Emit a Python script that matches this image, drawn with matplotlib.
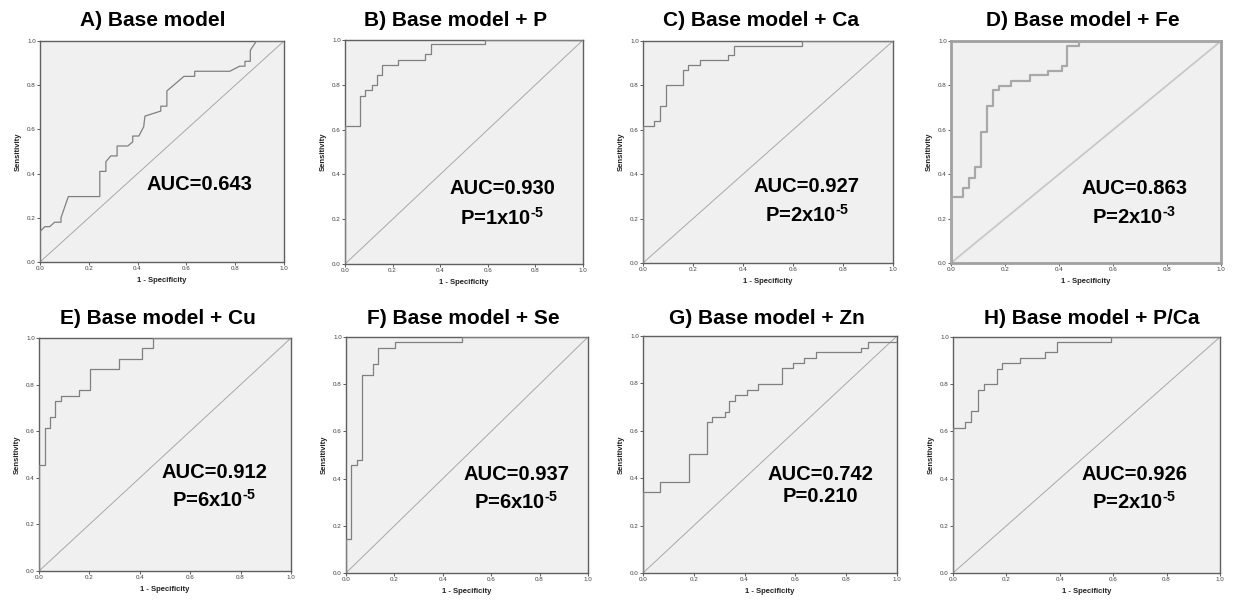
import matplotlib
matplotlib.use("Agg")
import matplotlib.pyplot as plt

plt.rcParams['font.family'] = ['Liberation Sans', 'DejaVu Sans']
plt.rcParams['mathtext.fontset'] = 'custom'
plt.rcParams['mathtext.rm'] = 'Liberation Sans:bold'
plt.rcParams['mathtext.bf'] = 'Liberation Sans:bold'
plt.rcParams['mathtext.it'] = 'Liberation Sans:bold'

# ---------------- data ----------------
titles = ["A) Base model", "B) Base model + P", "C) Base model + Ca", "D) Base model + Fe",
          "E) Base model + Cu", "F) Base model + Se", "G) Base model + Zn", "H) Base model + P/Ca"]
auc_labels = ["AUC=0.643", "AUC=0.930", "AUC=0.927", "AUC=0.863",
              "AUC=0.912", "AUC=0.937", "AUC=0.742", "AUC=0.926"]
p_labels = [None, r"P=1x10$^{\text{-5}}$", r"P=2x10$^{\text{-5}}$", r"P=2x10$^{\text{-3}}$",
            r"P=6x10$^{\text{-5}}$", r"P=6x10$^{\text{-5}}$", "P=0.210", r"P=2x10$^{\text{-5}}$"]

# Panel A (vertices, includes sloped segments)
A_fpr = [0, 0, 0.02, 0.04, 0.06, 0.086, 0.086, 0.116, 0.245, 0.245, 0.27, 0.27, 0.29, 0.316,
         0.316, 0.36, 0.38, 0.38, 0.405, 0.425, 0.43, 0.495, 0.495, 0.52, 0.52, 0.59, 0.634,
         0.634, 0.778, 0.818, 0.84, 0.84, 0.862, 0.862, 0.887, 1.0]
A_tpr = [0, 0.138, 0.16, 0.16, 0.18, 0.18, 0.2, 0.296, 0.296, 0.41, 0.41, 0.454, 0.48, 0.48,
         0.525, 0.525, 0.544, 0.57, 0.57, 0.612, 0.66, 0.683, 0.705, 0.705, 0.774, 0.84, 0.84,
         0.863, 0.863, 0.886, 0.886, 0.908, 0.908, 0.958, 1.0, 1.0]

# Panels B-H (step corners, steps-post)
B_fpr = [0, 0, 0.063, 0.084, 0.112, 0.133, 0.157, 0.224, 0.337, 0.36, 0.589, 1.0]
B_tpr = [0, 0.614, 0.752, 0.777, 0.8, 0.844, 0.889, 0.911, 0.936, 0.98, 1.0, 1.0]

C_fpr = [0, 0, 0.044, 0.067, 0.091, 0.158, 0.18, 0.227, 0.341, 0.364, 0.635, 1.0]
C_tpr = [0, 0.615, 0.64, 0.709, 0.802, 0.87, 0.892, 0.915, 0.937, 0.978, 1.0, 1.0]

D_fpr = [0, 0, 0.043, 0.068, 0.089, 0.11, 0.132, 0.154, 0.178, 0.221, 0.293, 0.36, 0.41, 0.428, 0.475, 1.0]
D_tpr = [0, 0.297, 0.338, 0.383, 0.432, 0.59, 0.706, 0.778, 0.796, 0.818, 0.845, 0.866, 0.886, 0.976, 1.0, 1.0]

E_fpr = [0, 0, 0.023, 0.042, 0.065, 0.086, 0.158, 0.204, 0.317, 0.41, 0.454, 1.0]
E_tpr = [0, 0.455, 0.615, 0.659, 0.73, 0.752, 0.775, 0.866, 0.91, 0.957, 1.0, 1.0]

F_fpr = [0, 0, 0.021, 0.044, 0.068, 0.113, 0.134, 0.203, 0.479, 1.0]
F_tpr = [0, 0.142, 0.456, 0.477, 0.84, 0.885, 0.953, 0.977, 1.0, 1.0]

G_fpr = [0, 0, 0.068, 0.182, 0.251, 0.271, 0.321, 0.34, 0.363, 0.408, 0.454, 0.546, 0.592, 0.635, 0.681, 0.86, 0.886, 1.0]
G_tpr = [0, 0.341, 0.386, 0.501, 0.636, 0.66, 0.681, 0.727, 0.749, 0.772, 0.796, 0.864, 0.885, 0.909, 0.931, 0.951, 0.976, 1.0]

H_fpr = [0, 0, 0.046, 0.069, 0.094, 0.116, 0.163, 0.184, 0.25, 0.344, 0.388, 0.591, 1.0]
H_tpr = [0, 0.614, 0.638, 0.685, 0.777, 0.8, 0.866, 0.888, 0.91, 0.935, 0.98, 1.0, 1.0]

curves = [(A_fpr, A_tpr), (B_fpr, B_tpr), (C_fpr, C_tpr), (D_fpr, D_tpr),
          (E_fpr, E_tpr), (F_fpr, F_tpr), (G_fpr, G_tpr), (H_fpr, H_tpr)]
tick_vals = [0.0, 0.2, 0.4, 0.6, 0.8, 1.0]
tick_labels = ["0.0", "0.2", "0.4", "0.6", "0.8", "1.0"]

# ---------------- layout (pixels) ----------------
W, H = 1233, 600
boxes = [(40, 284, 41, 262), (345, 583, 40, 264), (643, 893, 41, 263), (951, 1221, 41, 263),
         (39, 291, 338, 571), (346, 588, 337, 573), (643, 897, 336, 573), (953, 1220, 337, 573)]
title_pos = [(153, 20), (456, 20), (761, 20), (1083, 20),
             (158, 318), (463, 318), (767, 318), (1092, 318)]
auc_pos = [(199, 185), (502, 189), (807, 186), (1134, 188),
           (214, 473), (516, 474), (820, 475), (1134, 475)]
p_pos = [None, (502, 218), (807, 215), (1134, 217),
         (214, 500), (516, 502), (820, 497), (1134, 502)]

fig = plt.figure(figsize=(W / 100, H / 100), dpi=100)
fig.patch.set_facecolor('white')

def fx(x):
    return x / W

def fy(y):
    return 1 - y / H

for i in range(8):
    x0, x1, yt, yb = boxes[i]
    ax = fig.add_axes([fx(x0), fy(yb), (x1 - x0) / W, (yb - yt) / H])
    ax.set_facecolor('#f0f0f0')
    is_d = (i == 3)
    curve_col = '#a8a8a8' if is_d else '#808080'
    diag_col = '#c8c8c8' if is_d else '#a8a8a8'
    lw = 1.6 if is_d else 0.9
    ax.plot([0, 1], [0, 1], color=diag_col, lw=1.3 if is_d else 0.7, zorder=2)
    xs, ys = curves[i]
    if i == 0:
        ax.plot(xs, ys, color=curve_col, lw=lw, zorder=3)
    else:
        ax.plot(xs, ys, color=curve_col, lw=lw, drawstyle='steps-post', zorder=3)
    ax.set_xlim(0, 1)
    ax.set_ylim(0, 1)
    ax.set_xticks(tick_vals)
    ax.set_xticklabels(tick_labels)
    ax.set_yticks(tick_vals)
    ax.set_yticklabels(tick_labels)
    ax.tick_params(axis='both', labelsize=4.5, length=2, width=0.6, pad=1,
                   colors='#404040', labelcolor='#404040')
    for s in ax.spines.values():
        s.set_color('#a0a0a0' if is_d else '#606060')
        s.set_linewidth(2.0 if is_d else 1.0)
    ax.set_xlabel("1 - Specificity", fontsize=5.5, fontweight='bold', labelpad=4, color='#202020')
    ax.set_ylabel("Sensitivity", fontsize=5.5, fontweight='bold', labelpad=4, color='#202020')

    tx, ty = title_pos[i]
    fig.text(fx(tx), fy(ty), titles[i], ha='center', va='center', fontsize=15,
             fontweight='bold', color='black')
    ax_, ay_ = auc_pos[i]
    fig.text(fx(ax_), fy(ay_), auc_labels[i], ha='center', va='center', fontsize=14.5,
             fontweight='bold', color='black')
    if p_labels[i] is not None:
        px_, py_ = p_pos[i]
        fig.text(fx(px_), fy(py_), p_labels[i], ha='center', va='center', fontsize=14.5,
                 fontweight='bold', color='black')

fig.savefig("out.png", dpi=100, facecolor='white')
